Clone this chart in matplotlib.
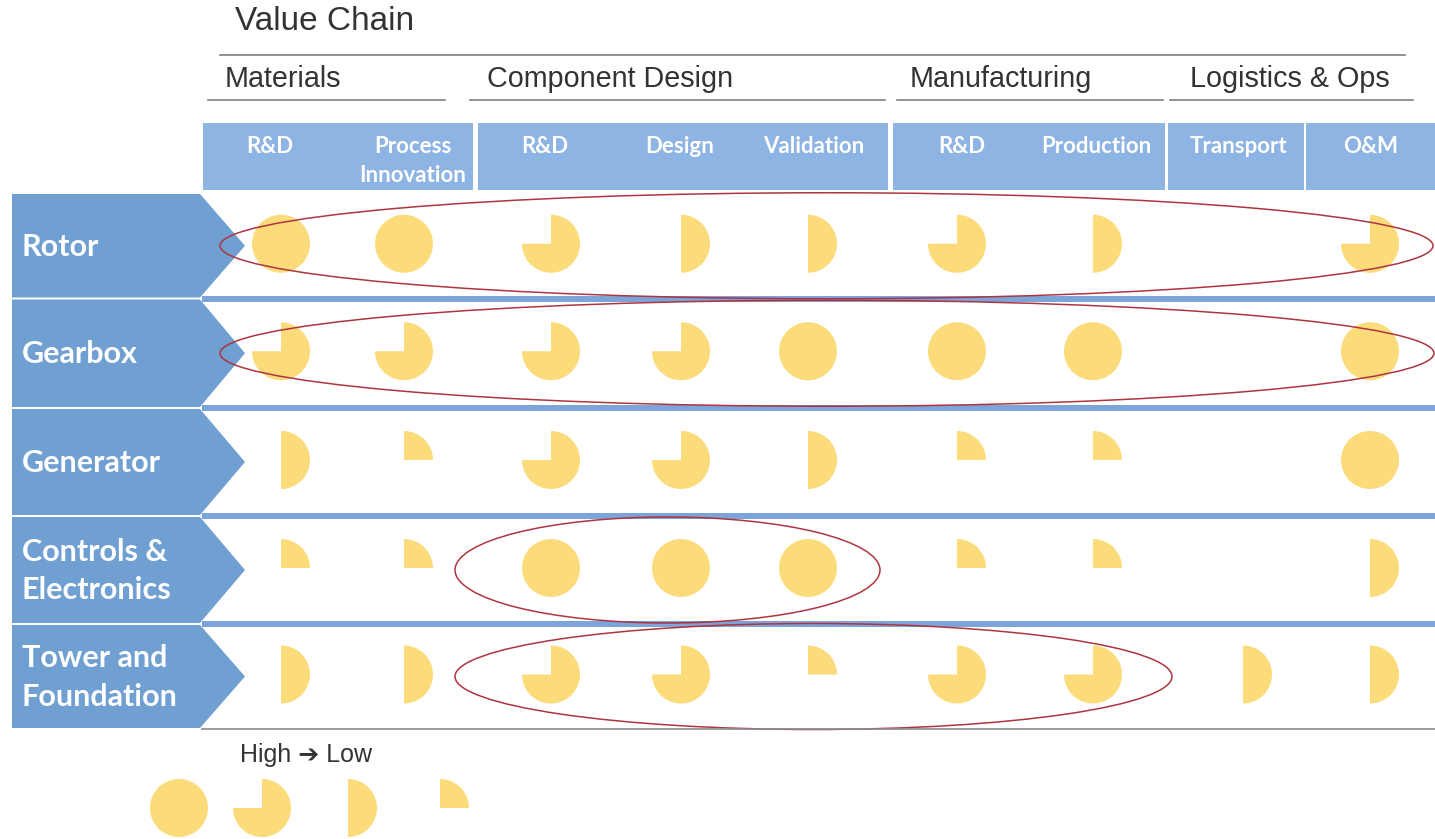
import matplotlib
matplotlib.use('Agg')
import matplotlib.pyplot as plt
from matplotlib.patches import Rectangle, Polygon, Wedge, Circle, Ellipse

# ================= data =================
rows = ['Rotor', 'Gearbox', 'Generator', 'Controls &\nElectronics', 'Tower and\nFoundation']
groups = ['Materials', 'Component Design', 'Manufacturing', 'Logistics & Ops']
columns = ['R&D', 'Process\nInnovation', 'R&D', 'Design', 'Validation',
           'R&D', 'Production', 'Transport', 'O&M']
# harvey ball level: 4 = full, 3 = three quarter, 2 = half, 1 = quarter, 0 = none
rotor = [4, 4, 3, 2, 2, 3, 2, 0, 3]
gearbox = [3, 3, 3, 3, 4, 4, 4, 0, 4]
generator = [2, 1, 3, 3, 2, 1, 1, 0, 4]
controls = [1, 1, 4, 4, 4, 1, 1, 0, 2]
tower = [2, 2, 3, 3, 1, 3, 3, 2, 2]
scores = [rotor, gearbox, generator, controls, tower]
# highlighted blocks: (row, first column, last column)
highlights = [(0, 0, 8), (1, 0, 8), (3, 2, 4), (4, 2, 6)]
legend_levels = [4, 3, 2, 1]

# ================= layout (pixels) =================
W, H = 1435, 839
col_x = [281, 404, 551, 681, 808, 957, 1093, 1243, 1370]
head_x = [270, 413, 545, 680, 814, 962, 1096, 1238, 1371]
bounds = [193, 298.5, 408, 516, 624, 729]
group_text_x = [225, 487, 910, 1190]
group_line = [(208, 445), (470, 885), (897, 1163), (1170, 1413)]
band_segs = [(203, 473), (478, 888), (893, 1165), (1168, 1435)]
ell_pad = [(61, 63), (61, 64), (96, 72), (96, 79)]
R = 29
BALL = '#FCDB7A'
HEAD = '#8DB4E2'
ROWC = '#709FD1'
SEP = '#7BA4D8'

fig = plt.figure(figsize=(W / 100, H / 100), dpi=100)
ax = fig.add_axes([0, 0, 1, 1])
ax.set_xlim(0, W)
ax.set_ylim(H, 0)
ax.axis('off')


def harvey(x, y, level, r=R):
    # y axis is inverted, so data angles run clockwise on screen
    if level <= 0:
        return
    if level >= 4:
        ax.add_patch(Circle((x, y), r, color=BALL, lw=0))
    else:
        ax.add_patch(Wedge((x, y), r, -90, -90 + 90 * level, color=BALL, lw=0))


# title block
ax.text(235, 22, 'Value Chain', fontsize=24, color='#333333', family='Liberation Sans',
        va='center', ha='left')
ax.plot([220, 1405], [55, 55], color='#808080', lw=1.2)
for name, tx, (x0, x1) in zip(groups, group_text_x, group_line):
    ax.text(tx, 79, name, fontsize=20.7, color='#333333', family='Liberation Sans',
            va='center', ha='left')
    ax.plot([x0, x1], [100, 100], color='#808080', lw=1.2)

# header band
for x0, x1 in band_segs:
    ax.add_patch(Rectangle((x0, 123), x1 - x0, 67, color=HEAD, lw=0))
ax.plot([1305, 1305], [123, 190], color='white', lw=1.5)
for name, x in zip(columns, head_x):
    ax.text(x, 136, name, fontsize=16, color='white', family='Lato', weight='bold',
            ha='center', va='top', linespacing=1.45)

# row chevrons
for i, name in enumerate(rows):
    t, b = bounds[i] + 1, bounds[i + 1] - 1
    mid = (t + b) / 2
    ax.add_patch(Polygon([(12, t), (200, t), (245, mid), (200, b), (12, b)],
                         closed=True, color=ROWC, lw=0))
    ax.text(22, mid + 1, name, fontsize=22, color='white', family='Lato', weight='bold',
            ha='left', va='center', linespacing=1.45)

# row separators and bottom rule
for yb in bounds[1:-1]:
    ax.add_patch(Rectangle((202, yb - 3), W - 202, 6, color=SEP, lw=0))
ax.plot([202, W], [bounds[-1], bounds[-1]], color='#8C8C8C', lw=1.2)

# harvey balls
for i, vals in enumerate(scores):
    cy = (bounds[i] + bounds[i + 1]) / 2 - 2
    for j, v in enumerate(vals):
        harvey(col_x[j], cy, v)

# highlight ellipses
for (r, c0, c1), (pl, pr) in zip(highlights, ell_pad):
    x0 = col_x[c0] - pl
    x1 = col_x[c1] + pr
    cy = (bounds[r] + bounds[r + 1]) / 2
    ax.add_patch(Ellipse(((x0 + x1) / 2, cy), x1 - x0, 106, fill=False,
                         edgecolor='#AE3540', lw=1.1))

# legend
ax.text(240, 755, 'High \u2794 Low', fontsize=18, color='#333333',
        family=['Liberation Sans', 'DejaVu Sans'], va='center', ha='left')
for lx, lv in zip([179, 262, 348, 440], legend_levels):
    harvey(lx, 808, lv)

fig.savefig('out.png', dpi=100)
